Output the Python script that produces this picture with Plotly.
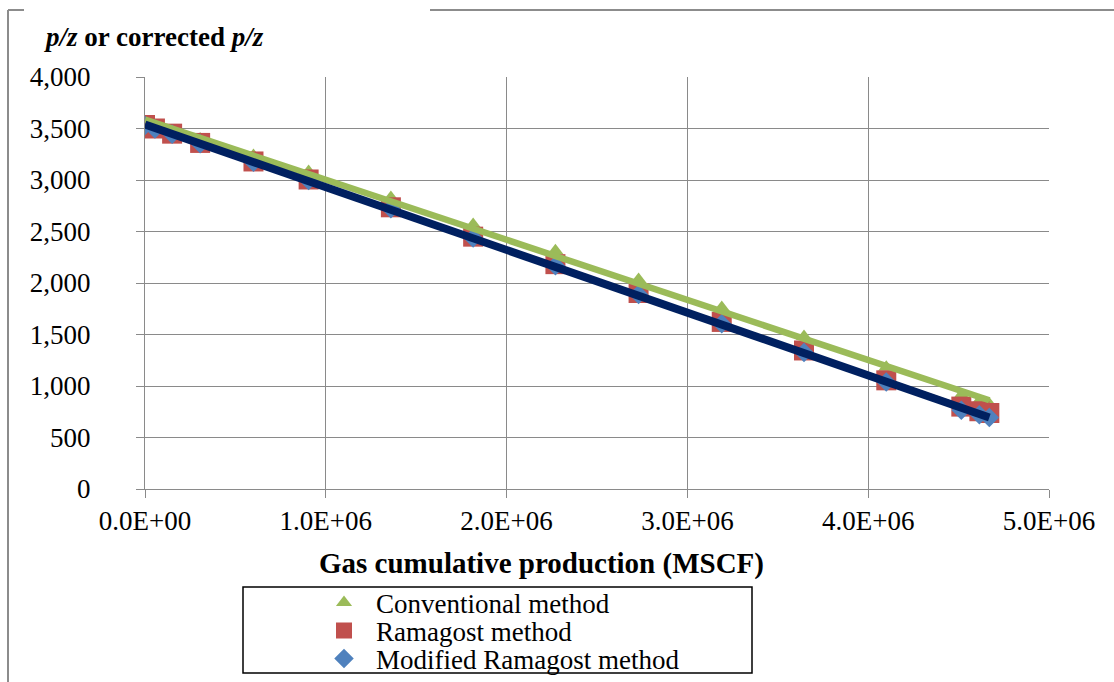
import numpy as np
import plotly.graph_objects as go

# ---------------- data ----------------
gas_cum = [0, 55000, 150000, 305000, 600000, 905000, 1360000, 1815000, 2270000,
           2730000, 3190000, 3645000, 4100000, 4515000, 4615000, 4670000]
pz_conventional = [3545, 3505, 3468, 3398, 3238, 3082, 2830, 2568, 2313,
                   2033, 1762, 1480, 1183, 913, 858, 825]
pz_ramagost = [3534, 3500, 3450, 3360, 3180, 3005, 2735, 2450, 2183,
               1903, 1622, 1345, 1055, 800, 755, 738]
pz_modified = [3530, 3495, 3443, 3352, 3172, 2995, 2722, 2438, 2168,
               1888, 1605, 1325, 1040, 765, 722, 695]
series_names = ["Conventional method", "Ramagost method", "Modified Ramagost method"]
x_tick_vals = [0, 1000000, 2000000, 3000000, 4000000, 5000000]
x_tick_text = ["0.0E+00", "1.0E+06", "2.0E+06", "3.0E+06", "4.0E+06", "5.0E+06"]

# ---------------- layout constants ----------------
W, H = 1114, 682
PL, PR, PT, PB = 145, 1049, 77, 489   # plot-area pixel box
FONT = "Liberation Serif, Times New Roman, serif"
GRID = "#8A8A8A"

def px(X):
    return (X - PL) / (PR - PL)

def py(Y):
    return (PB - Y) / (PB - PT)

GREEN, RED, BLUE, NAVY = "#9BBB59", "#C0504D", "#4F81BD", "#002060"

fig = go.Figure()

fig.add_trace(go.Scatter(x=gas_cum, y=pz_conventional, mode="markers", name=series_names[0],
                         marker=dict(symbol="triangle-up", size=14, color=GREEN), legend="legend"))
fig.add_trace(go.Scatter(x=gas_cum, y=pz_ramagost, mode="markers", name=series_names[1],
                         marker=dict(symbol="square", size=20, color=RED), legend="legend2"))
fig.add_trace(go.Scatter(x=gas_cum, y=pz_modified, mode="markers", name=series_names[2],
                         marker=dict(symbol="diamond", size=15, color=BLUE), legend="legend3"))

# linear trend lines fitted from the data
xs = np.array(gas_cum, dtype=float)
xr = np.array([xs.min(), xs.max()])
for ys, col, w in [(pz_conventional, GREEN, 6.5), (pz_ramagost, RED, 1.5), (pz_modified, NAVY, 8)]:
    k, b = np.polyfit(xs, np.array(ys, dtype=float), 1)
    fig.add_trace(go.Scatter(x=xr, y=k * xr + b, mode="lines", showlegend=False,
                             line=dict(color=col, width=w), hoverinfo="skip"))

axis_common = dict(showgrid=True, gridcolor=GRID, gridwidth=1, showline=True, linecolor=GRID,
                   linewidth=1, ticks="outside", ticklen=8, tickcolor=GRID, zeroline=False,
                   tickfont=dict(family=FONT, size=27, color="black"))

fig.update_xaxes(range=[0, 5000000], tickvals=x_tick_vals, ticktext=x_tick_text, **axis_common)
fig.update_yaxes(range=[0, 4000], dtick=500, tickformat=",d", ticklabelstandoff=40, **axis_common)

leg_common = dict(bgcolor="rgba(0,0,0,0)", borderwidth=0, xanchor="left", yanchor="middle",
                  font=dict(family=FONT, size=27, color="black"), itemwidth=54)
lx = px(312)
shapes = [
    # legend box
    dict(type="rect", xref="paper", yref="paper", x0=px(243), x1=px(752), y0=py(587), y1=py(673),
         line=dict(color="black", width=1.5), fillcolor="white", layer="below"),
    # chart-area frame (partially hidden behind title)
    dict(type="line", xref="paper", yref="paper", x0=px(8), x1=px(24), y0=py(10), y1=py(10),
         line=dict(color="#8C8C8C", width=2)),
    dict(type="line", xref="paper", yref="paper", x0=px(430), x1=px(1130), y0=py(10), y1=py(10),
         line=dict(color="#8C8C8C", width=2)),
    dict(type="line", xref="paper", yref="paper", x0=px(8), x1=px(8), y0=py(10), y1=py(700),
         line=dict(color="#8C8C8C", width=2)),
]

fig.update_layout(
    width=W, height=H,
    margin=dict(l=PL, r=W - PR, t=PT, b=H - PB, autoexpand=False),
    paper_bgcolor="white", plot_bgcolor="white",
    font=dict(family=FONT, size=27, color="black"),
    legend=dict(x=lx, y=py(603), **leg_common),
    legend2=dict(x=lx, y=py(631), **leg_common),
    legend3=dict(x=lx, y=py(659), **leg_common),
    shapes=shapes,
    annotations=[
        dict(xref="paper", yref="paper", x=px(42), y=py(37), xanchor="left", yanchor="middle",
             text="<b><i>p/z</i> or corrected <i>p/z</i></b>", showarrow=False,
             font=dict(family=FONT, size=27, color="black")),
        dict(xref="paper", yref="paper", x=px(541), y=py(563), xanchor="center", yanchor="middle",
             text="<b>Gas cumulative production (MSCF)</b>", showarrow=False,
             font=dict(family=FONT, size=29, color="black")),
    ],
)

fig.write_html("out.html")
